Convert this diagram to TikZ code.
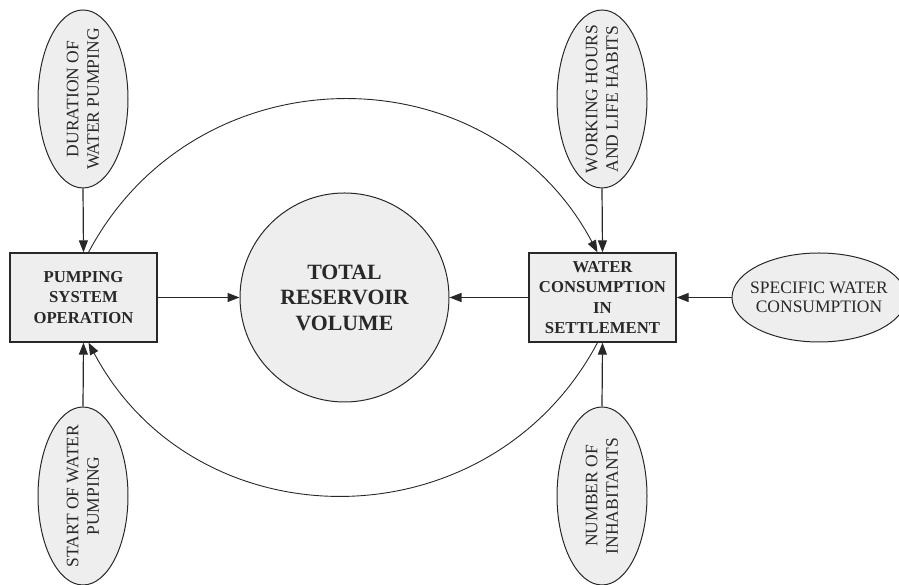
\documentclass[tikz,border=0pt]{standalone}
\usepackage{fontspec}
\setmainfont{Liberation Serif}
\usetikzlibrary{shapes.geometric,arrows.meta}
\definecolor{shade}{RGB}{238,238,238}
\definecolor{ink}{RGB}{40,40,40}
\begin{document}
\begin{tikzpicture}[x=1pt,y=1pt,
  conn/.style={line width=1.2pt,draw=ink,-{Triangle[length=12pt,width=9pt]}},
  arcline/.style={line width=0.9pt,draw=ink,-{Triangle[length=12pt,width=9pt]}},
  factor/.style={ellipse,draw=ink,line width=1pt,fill=shade,inner sep=-30pt,align=center,text=ink,font=\fontsize{17.5}{19.5}\selectfont},
  vfactor/.style={factor,minimum width=178pt,minimum height=90pt,rotate=90,font=\fontsize{17.5}{20.5}\selectfont},
  block/.style={rectangle,draw=ink,line width=1.3pt,fill=shade,minimum width=147pt,minimum height=89pt,inner sep=0pt,align=center,text=ink,font=\fontsize{16.7}{20.5}\selectfont\bfseries},
  result/.style={circle,draw=ink,line width=1pt,fill=shade,minimum size=209pt,inner sep=0pt,align=center,text=ink,font=\fontsize{21.8}{25.5}\selectfont\bfseries}]
\useasboundingbox (0,0) rectangle (899,585);
\node[block] (pump) at (83.5,287.5) {PUMPING\\SYSTEM\\OPERATION};
\node[block] (water) at (602.5,287.5) {WATER\\CONSUMPTION\\IN\\SETTLEMENT};
\node[result] (total) at (344.5,287.5) {TOTAL\\RESERVOIR\\VOLUME};
\node[vfactor] (dur) at (83,486) {DURATION OF\\WATER PUMPING};
\node[vfactor] (work) at (602,486) {WORKING HOURS\\AND LIFE HABITS};
\node[vfactor] (start) at (83,89) {START OF WATER\\PUMPING};
\node[vfactor] (num) at (602,89) {NUMBER OF\\INHABITANTS};
\node[factor,minimum width=174pt,minimum height=89pt] (spec) at (819,287.5) {SPECIFIC WATER\\CONSUMPTION};

\draw[conn] (pump.east) -- (total.west);
\draw[conn] (water.west) -- (total.east);
\draw[conn] (spec.west) -- (water.east);
\draw[conn] (dur.west) -- (pump.north);
\draw[conn] (start.east) -- (pump.south);
\draw[conn] (work.west) -- (water.north);
\draw[conn] (num.east) -- (water.south);

\draw[arcline] ([xshift=5pt]pump.north) to[out=62,in=118,looseness=1.16] ([xshift=-5pt]water.north);
\draw[arcline] ([xshift=-5pt]water.south) to[out=-118,in=-62,looseness=1.16] ([xshift=5pt]pump.south);
\end{tikzpicture}
\end{document}
